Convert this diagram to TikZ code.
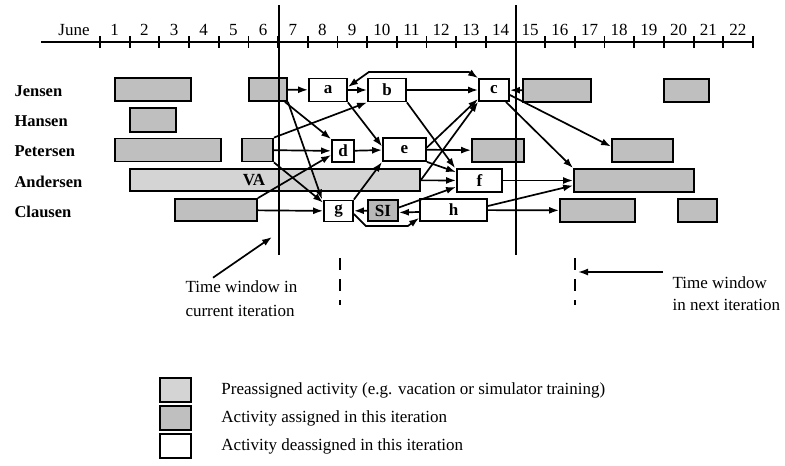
\documentclass[tikz,border=0pt]{standalone}
\usepackage{fontspec}
\setmainfont{Liberation Serif}
\usetikzlibrary{arrows.meta,positioning,calc}

\begin{document}
\begin{tikzpicture}[x=1pt,y=-1pt,>={Latex[length=10pt,width=7pt]},
font=\fontsize{17}{20}\selectfont,
bx/.style={draw,line width=1.8pt,minimum height=23pt,inner sep=0pt,font=\fontsize{17}{20}\selectfont\bfseries},
pre/.style={bx,fill=black!17},
asg/.style={bx,fill=black!25},
act/.style={bx,fill=white},
crew/.style={anchor=west,font=\fontsize{16.5}{19}\selectfont\bfseries},
arrow/.style={->,line width=1.7pt},
arrows2/.style={<->,line width=1.7pt},
win/.style={line width=1.8pt},
nextwin/.style={line width=1.2pt,dash pattern=on 12pt off 9pt}]
\useasboundingbox (0,0) rectangle (785,466);
\fill[white] (0,0) rectangle (785,466);
% time axis
\draw[win] (41,42) -- (753,42);
\foreach \k in {0,...,22} \draw[win] ({100+29.68*\k},36) -- ({100+29.68*\k},48);
\foreach \k in {1,...,22} \node (day\k) at ({100+29.68*\k-15},30) {\k};
\node (june) at (74,30) {June};
% crew
\node[crew] (jensen) at (11,91) {Jensen};
\node[crew] (hansen) at (11,121) {Hansen};
\node[crew] (petersen) at (11,151) {Petersen};
\node[crew] (andersen) at (11,182) {Andersen};
\node[crew] (clausen) at (11,212) {Clausen};
% Jensen
\node[asg,minimum width=76pt] (jen1) at (153,89.5) {};
\node[asg,minimum width=38pt] (jen2) at (268,89.5) {};
\node[act,minimum width=38pt] (a) at (328,90) {a};
\node[act,minimum width=38pt] (b) at (387,90) {b};
\node[act,minimum width=30pt,minimum height=22pt] (c) at (494,90) {c};
\node[asg,minimum width=68pt] (jen3) at (557,90.5) {};
\node[asg,minimum width=45pt] (jen4) at (686.5,90.5) {};
% Hansen
\node[asg,minimum width=46pt,minimum height=24pt] (han1) at (153,120) {};
% Petersen
\node[asg,minimum width=106pt] (pet1) at (168,150) {};
\node[asg,minimum width=31pt] (pet2) at (257.5,150) {};
\node[act,minimum width=22pt,minimum height=22pt] (d) at (343,151) {d};
\node[act,minimum width=43pt] (e) at (404.5,149.5) {e};
\node[asg,minimum width=52pt] (pet3) at (498,150.5) {};
\node[asg,minimum width=61pt] (pet4) at (642.5,150.5) {};
% Andersen
\node[pre,minimum width=290pt,minimum height=22pt] (va) at (275,180) {};
\node[font=\fontsize{17}{20}\selectfont\bfseries] (vaTxt) at (254,180) {VA};
\node[act,minimum width=45pt] (f) at (479.5,180.5) {f};
\node[asg,minimum width=120pt] (and1) at (634,180.5) {};
% Clausen
\node[asg,minimum width=82pt,minimum height=22pt] (cla1) at (216,210) {};
\node[act,minimum width=29pt,minimum height=21pt] (g) at (338.5,211) {g};
\node[pre,fill=black!28,minimum width=30pt,minimum height=21pt] (si) at (383,210.5) {SI};
\node[act,minimum width=67pt,minimum height=22pt] (h) at (453.5,210) {h};
\node[asg,minimum width=75pt] (cla2) at (597.5,210.5) {};
\node[asg,minimum width=39pt] (cla3) at (697.5,210.5) {};
% time windows
\draw[win] (279,5) -- (279,255);
\draw[win] (516,5) -- (516,255);
\draw[nextwin] (340,258) -- (340,305);
\draw[nextwin] (575,258) -- (575,305);
% connections
\draw[arrow] (jen2) -- (a);
\draw[arrow] (a) -- (b);
\draw[arrows2] ([yshift=3pt]a.east) -- ++(21,-15) -- ++(100,0) -- (c.north west);
\draw[arrow] (b) -- (c);
\draw[arrow] (jen3) -- (c);
\draw[arrow] ([yshift=-5pt]c.east) -- ([yshift=4pt]pet4.west);
\draw[arrow] ([xshift=-4pt]c.south east) -- (and1.north west);
\draw[arrow] (f) -- (and1);
\draw[arrow] ([yshift=4pt]h.east) -- ([yshift=-5pt]and1.west);
\draw[arrow] (h) -- (cla2);
\draw[arrow] ([xshift=-3pt]jen2.south east) -- (d.north west);
\draw[arrow] (jen2.south east) -- ([xshift=-1pt]g.north west);
\draw[arrow] (pet2) -- (d);
\draw[arrow] (pet2.north east) -- (b.south west);
\draw[arrow] (pet2.south east) -- ([yshift=-3pt]g.north west);
\draw[arrow] (cla1) -- (g);
\draw[arrow] (cla1.north east) -- ([yshift=-4pt]d.west);
\draw[arrow] (a.south east) -- ([yshift=3pt]e.west);
\draw[arrow] (d) -- (e);
\draw[arrow] (g.north east) -- (e.south west);
\draw[arrow] (b.south east) -- ([xshift=-1pt]f.north west);
\draw[arrow] (e.south east) -- ([yshift=-4pt]f.north west);
\draw[arrow] (e) -- (pet3);
\draw[arrow] ([yshift=2pt]e.east) -- ([yshift=3pt]c.south west);
\draw[arrow] (va.east) -- (c.south west);
\draw[arrow] (va) -- (f);
\draw[arrow] (si) -- (g);
\draw[arrow] ([yshift=-2pt]h.west) -- ([yshift=-2pt]si.east);
\draw[arrow] ([yshift=3pt]si.east) -- ([yshift=6pt]f.south west);
\draw[arrow] ([yshift=-3pt]g.east) -- ++(12,12) -- ++(42,0) -- ([yshift=4pt]h.south west);
% window notes
\node[align=left,anchor=base west,font=\fontsize{17}{24}\selectfont] (twCur) at (182,316) {Time window in\\current iteration};
\coordinate (tipCur) at (272,237);
\draw[arrow] ([xshift=31pt,yshift=-1pt]twCur.north west) -- (tipCur);
\node[align=left,anchor=base west,font=\fontsize{17}{22}\selectfont] (twNext) at (669,310) {Time window\\in next iteration};
\coordinate (tipNext) at (578,272);
\draw[arrow] ([xshift=-6pt]twNext.north west |- tipNext) -- (tipNext);
% legend
\node[pre,minimum width=31pt,minimum height=24pt] (lgPre) at (175.5,390) {};
\node[asg,minimum width=31pt,minimum height=24pt] (lgAsg) at (175.5,418) {};
\node[act,minimum width=31pt,minimum height=24pt] (lgAct) at (175.5,446) {};
\node[right=26pt of lgPre] (lgPreTxt) {Preassigned activity (e.g. vacation or simulator training)};
\node[right=26pt of lgAsg] (lgAsgTxt) {Activity assigned in this iteration};
\node[right=26pt of lgAct] (lgActTxt) {Activity deassigned in this iteration};
\end{tikzpicture}
\end{document}
